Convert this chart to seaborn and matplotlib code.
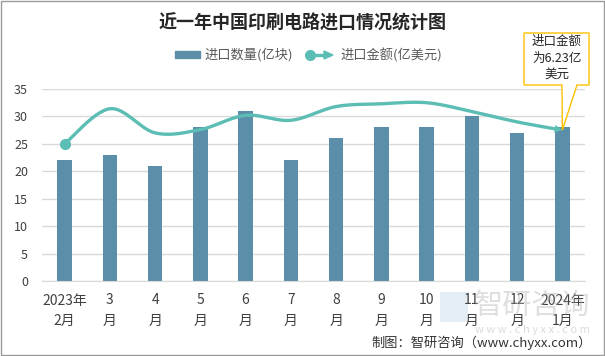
import numpy as np
import pandas as pd
import matplotlib
matplotlib.use("Agg")
import matplotlib.pyplot as plt
import seaborn as sns
from matplotlib.patches import Rectangle, Polygon
from matplotlib.lines import Line2D

# data
months = ["2023年\n2月", "3\n月", "4\n月", "5\n月", "6\n月", "7\n月",
          "8\n月", "9\n月", "10\n月", "11\n月", "12\n月", "2024年\n1月"]
qty = [22, 23, 21, 28, 31, 22, 26, 28, 28, 30, 27, 28]          # 进口数量(亿块)
amount = [25, 31.4, 27.0, 27.6, 30.2, 29.3, 31.8, 32.3, 32.5, 30.9, 29.0, 27.5]  # 进口金额
y_ticks = [0, 5, 10, 15, 20, 25, 30, 35]

bar_col = "#5b8ea8"
line_col = "#5bbdb4"
grid_col = "#d9d9d9"
txt_col = "#404040"

sns.set_style("white")
plt.rcParams['font.family'] = ['Noto Sans CJK SC', 'DejaVu Sans']

W, H = 605, 356
fig = plt.figure(figsize=(W / 100, H / 100), dpi=100)
ax = fig.add_axes([42 / W, 1 - 281 / H, 543 / W, 192 / H])

df = pd.DataFrame({"month": months, "qty": qty, "amount": amount})
sns.barplot(data=df, x="month", y="qty", color=bar_col, width=0.32,
            saturation=1, linewidth=0, ax=ax, zorder=2)

# smoothed line (Excel style bezier through the points)
xs = np.arange(len(amount), dtype=float)
ys = np.array(amount, dtype=float)
px = np.concatenate([[xs[0]], xs, [xs[-1]]])
py = np.concatenate([[ys[0]], ys, [ys[-1]]])
cx, cy = [], []
t = np.linspace(0, 1, 30)
for i in range(len(xs) - 1):
    p0 = np.array([px[i + 1], py[i + 1]])
    p3 = np.array([px[i + 2], py[i + 2]])
    c1 = p0 + (p3 - np.array([px[i], py[i]])) / 6
    c2 = p3 - (np.array([px[i + 3], py[i + 3]]) - p0) / 6
    b = ((1 - t) ** 3)[:, None] * p0 + (3 * (1 - t) ** 2 * t)[:, None] * c1 \
        + (3 * (1 - t) * t ** 2)[:, None] * c2 + (t ** 3)[:, None] * p3
    cx.extend(b[:-1, 0])
    cy.extend(b[:-1, 1])
cx.append(xs[-1])
cy.append(ys[-1])
cx, cy = np.array(cx), np.array(cy)

ax.plot(cx[:-6], cy[:-6], color=line_col, lw=2.4, zorder=3, solid_capstyle="round")
ax.plot(xs[0], ys[0], "o", color=line_col, ms=7, zorder=4)
ax.annotate("", xy=(cx[-1], cy[-1]), xytext=(cx[-8], cy[-8]),
            arrowprops=dict(arrowstyle="-|>", color=line_col, lw=0,
                            mutation_scale=14, shrinkA=0, shrinkB=0), zorder=4)

ax.set_ylim(0, 35)
ax.set_xlim(-0.5, 11.5)
ax.set_yticks(y_ticks)
ax.yaxis.grid(True, color=grid_col, lw=1)
ax.set_axisbelow(True)
for s in ["top", "right", "left"]:
    ax.spines[s].set_visible(False)
ax.spines["bottom"].set_color(grid_col)
ax.tick_params(axis="y", length=0, labelsize=9, labelcolor=txt_col, pad=10)
ax.tick_params(axis="x", length=0, labelsize=10, labelcolor=txt_col, pad=9)
for lab in ax.get_xticklabels():
    lab.set_linespacing(1.6)
ax.set_xlabel("")
ax.set_ylabel("")

# title
fig.text(0.5, 1 - 23 / H, "近一年中国印刷电路进口情况统计图", ha="center", va="center",
         fontsize=13, fontweight="bold", color="#262626")

# legend
def fx(p):
    return p / W

def fy(p):
    return 1 - p / H

fig.add_artist(Rectangle((fx(175), fy(58)), 25 / W, 7 / H, color=bar_col,
                         transform=fig.transFigure))
fig.text(fx(204), fy(55), "进口数量(亿块)", ha="left", va="center", fontsize=9.5, color="#595959")
fig.add_artist(Line2D([fx(309), fx(326)], [fy(55), fy(55)], color=line_col, lw=2.4,
                      transform=fig.transFigure))
fig.add_artist(Line2D([fx(310)], [fy(55)], marker="o", ms=7, color=line_col,
                      transform=fig.transFigure))
fig.add_artist(Polygon([[fx(324), fy(51)], [fx(333), fy(55)], [fx(324), fy(59)]],
                       closed=True, color=line_col, transform=fig.transFigure))
fig.text(fx(340), fy(55), "进口金额(亿美元)", ha="left", va="center", fontsize=9.5, color="#595959")

# callout for the last point
fig.canvas.draw()
tip = ax.transData.transform((xs[-1], ys[-1]))
tip_px = (tip[0], H - tip[1])
box = [(524, 33), (589, 33), (589, 85), (577, 85), tip_px, (562, 85), (524, 85)]
fig.add_artist(Polygon([[fx(a), fy(b)] for a, b in box], closed=True, facecolor="white",
                       edgecolor="#ffc000", lw=1, transform=fig.transFigure, zorder=5))
fig.text(fx(556.5), fy(58), "进口金额\n为6.23亿\n美元", ha="center", va="center",
         fontsize=9, color="#262626", linespacing=1.35, zorder=6)

# watermark (sits behind the tick labels like in the original)
fig.text(fx(590), fy(306), "智研咨询", ha="right", va="center", fontsize=21,
         color="#b0b0b0", alpha=0.4, zorder=0)
fig.text(fx(590), fy(330), "w w w . c h y x x . c o m", ha="right", va="center",
         fontsize=8, color="#b0b0b0", alpha=0.45, zorder=0)
fig.add_artist(Rectangle((fx(440), fy(322)), 28 / W, 30 / H, facecolor="#a9c6dc",
                         alpha=0.3, lw=0, transform=fig.transFigure, zorder=0))

# source
fig.text(fx(592), fy(343), "制图：智研咨询（www.chyxx.com）", ha="right", va="center",
         fontsize=9.5, color="#333333")

# outer border
fig.add_artist(Rectangle((0.001, 0.002), 0.997, 0.995, fill=False, edgecolor="#9a9a9a",
                         lw=1, transform=fig.transFigure))

fig.savefig("out.png", dpi=100)
